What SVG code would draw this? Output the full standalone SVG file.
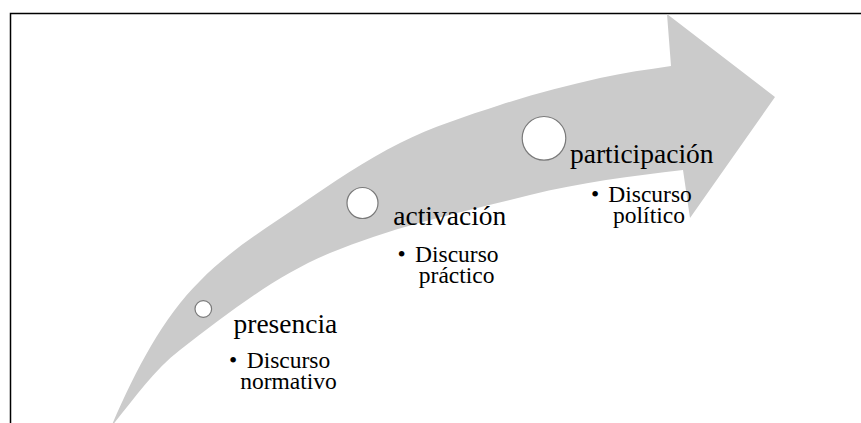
<svg xmlns="http://www.w3.org/2000/svg" width="861" height="423" viewBox="0 0 861 423">
<style>
.frame{fill:none;stroke:#000;stroke-width:1.5}
.arrow{fill:#cbcbcb;stroke:none}
.dot{fill:#fff;stroke:#7a7a7a;stroke-width:1.2}
.title{font-family:"Liberation Serif","Times New Roman",serif;font-size:27.5px;fill:#000}
.sub{font-family:"Liberation Serif","Times New Roman",serif;font-size:23.5px;fill:#000}
.mid{text-anchor:middle}
</style>
<rect width="861" height="423" fill="#fff"/>
<rect class="frame" x="10.5" y="13.5" width="870" height="430"/>
<g id="connectors">
<path id="arrow" class="arrow" d="M111,427 C135,372 162,318 200,281 C228.8,251 265.6,228.6 300,205 C332.3,182.9 365,160.5 400,143 C431.9,127 466.1,116 500,105 C532.8,94.3 566.4,85.7 600,78 C623.4,72.7 647.3,69.6 671,66 L667,14 L775,97 L690,218 L683,170 C631.7,176.2 580.1,182.4 530,195 C462.7,211.9 394.1,226.3 330,253 C275.1,275.9 227.2,313.7 180,350 C152.6,371 133,400.4 111,427 Z"/>
</g>
<g id="node-presencia">
<circle class="dot" cx="203.3" cy="309" r="8.3"/>
<text class="title" x="233.5" y="333">presencia</text>
<text class="sub"><tspan x="229" y="367.5">•</tspan><tspan x="246.7" y="367.5">Discurso</tspan></text>
<text class="sub mid" x="288.5" y="388.5">normativo</text>
</g>
<g id="node-activacion">
<circle class="dot" cx="362.5" cy="203" r="15.5"/>
<text class="title" x="393.3" y="225">activación</text>
<text class="sub"><tspan x="397.5" y="261.5">•</tspan><tspan x="415" y="261.5">Discurso</tspan></text>
<text class="sub mid" x="456.7" y="282.5">práctico</text>
</g>
<g id="node-participacion">
<circle class="dot" cx="544" cy="138.3" r="21.8"/>
<text class="title" x="570" y="163.3">participación</text>
<text class="sub"><tspan x="591" y="201.5">•</tspan><tspan x="608.3" y="201.5">Discurso</tspan></text>
<text class="sub mid" x="649" y="223">político</text>
</g>
</svg>
